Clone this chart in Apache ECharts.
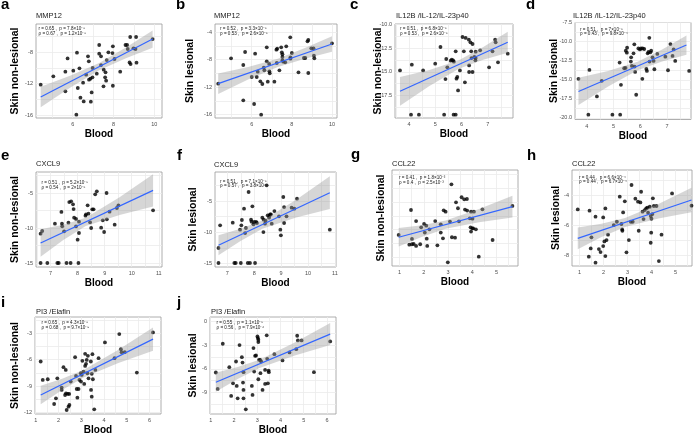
<!DOCTYPE html>
<html>
<head>
<meta charset="utf-8">
<script src="https://cdn.jsdelivr.net/npm/echarts@6/dist/echarts.min.js"></script>
<style>
html, body { margin: 0; padding: 0; background: #fff; }
#main { width: 700px; height: 435px; }
</style>
</head>
<body>
<div id="main"></div>
<script>
// a - MMP12, skin non-lesional vs blood
var ptsA = [[4.43,-12.13],[5.05,-11.06],[5.64,-12.98],[5.64,-10.47],[5.75,-8.77],[6.03,-10.34],[6.21,-8.04],[6.25,-12.55],[6.33,-10.04],[6.38,-13.79],[6.51,-11.87],[6.54,-14.26],[6.66,-10.85],[6.75,-8.51],[6.79,-9.15],[6.80,-11.49],[6.87,-11.36],[6.89,-14.30],[6.93,-13.11],[6.97,-11.19],[6.98,-10.0],[6.18,-15.96],[7.30,-7.06],[7.30,-8.17],[7.39,-9.62],[7.39,-8.51],[7.18,-10.72],[7.52,-10.21],[7.61,-10.55],[7.59,-11.19],[7.64,-11.62],[7.67,-8.98],[7.75,-8.0],[7.97,-7.23],[7.97,-12.26],[7.95,-8.09],[8.05,-8.85],[8.33,-10.47],[8.59,-7.06],[8.67,-7.06],[8.70,-7.57],[8.82,-6.04],[8.79,-9.28],[8.84,-9.49],[8.98,-7.49],[9.11,-6.04],[9.08,-7.57],[9.13,-9.32],[9.92,-6.30],[7.51,-12.34]];
var fitA = [[4.43,-13.70],[9.92,-6.30]];
var bandXA = [4.43,5.87,7.3,8.61,9.92];
var bandLoA = [-15.0,-12.53,-10.30,-8.75,-7.40];
var bandHiA = [-12.40,-10.99,-9.36,-7.39,-5.20];
var statA = 'r = 0.65 ,  p = 7.8×10⁻⁸\nρ = 0.67 ,  p = 1.2×10⁻⁸';

// b - MMP12, skin lesional
var ptsB = [[4.33,-11.50],[4.97,-7.82],[5.58,-8.79],[5.58,-13.92],[5.67,-6.90],[6.17,-7.14],[6.12,-14.45],[6.0,-10.53],[6.25,-10.53],[6.30,-9.76],[6.43,-11.16],[6.53,-11.55],[6.47,-16.0],[6.6,-9.18],[6.63,-9.56],[6.75,-8.26],[6.75,-6.23],[6.8,-11.21],[6.87,-8.64],[6.88,-9.71],[6.9,-10.0],[7.13,-11.21],[7.23,-6.56],[7.27,-6.42],[7.25,-8.50],[7.38,-9.56],[7.47,-6.23],[7.5,-6.95],[7.53,-7.24],[7.53,-7.63],[7.53,-8.11],[7.57,-8.31],[7.72,-6.08],[7.67,-8.40],[7.92,-4.77],[7.93,-7.87],[7.93,-7.68],[8.0,-7.05],[8.33,-9.85],[8.6,-7.77],[8.67,-7.77],[8.78,-5.35],[8.82,-5.16],[8.82,-9.95],[8.97,-6.37],[9.08,-6.37],[9.1,-7.43],[9.12,-7.82],[10.0,-5.64]];
var fitB = [[4.33,-11.5],[10.0,-5.74]];
var bandXB = [4.33,5.82,7.3,8.65,10.0];
var bandLoB = [-12.98,-10.89,-9.08,-7.88,-6.88];
var bandHiB = [-10.02,-9.09,-7.88,-6.34,-4.60];
var statB = 'r = 0.52 ,  p = 3.3×10⁻⁵\nρ = 0.53 ,  p = 2.6×10⁻⁵';

// c - IL12B, skin non-lesional
var ptsC = [[3.66,-14.85],[4.11,-14.24],[4.08,-19.55],[4.38,-19.55],[4.54,-14.85],[5.0,-14.14],[5.2,-12.37],[5.39,-15.77],[5.34,-19.55],[5.42,-13.64],[5.46,-14.53],[5.59,-13.82],[5.63,-13.71],[5.68,-13.78],[5.71,-13.93],[5.70,-19.55],[5.78,-19.55],[5.78,-12.83],[5.81,-15.73],[5.84,-15.55],[5.87,-16.97],[5.94,-14.85],[6.04,-11.31],[6.09,-12.83],[6.13,-16.12],[6.16,-11.41],[6.28,-11.59],[6.29,-14.32],[6.29,-15.02],[6.34,-11.87],[6.37,-12.83],[6.38,-13.54],[6.42,-12.05],[6.42,-15.02],[6.49,-13.43],[6.53,-13.78],[6.54,-12.87],[6.54,-13.54],[6.71,-12.72],[7.05,-14.53],[7.18,-12.83],[7.28,-11.59],[7.30,-11.87],[7.39,-14.0],[7.76,-13.08]];
var fitC = [[3.66,-17.07],[7.76,-11.87]];
var bandXC = [3.66,4.78,5.9,6.83,7.76];
var bandLoC = [-18.59,-16.50,-14.68,-13.73,-12.98];
var bandHiC = [-15.55,-14.80,-13.78,-12.37,-10.76];
var statC = 'r = 0.51 ,  p = 6.8×10⁻⁵\nρ = 0.53 ,  p = 2.6×10⁻⁵';

// d - IL12B, skin lesional
var ptsD = [[3.69,-14.88],[4.1,-13.71],[4.06,-19.57],[4.38,-17.18],[4.56,-15.14],[4.96,-19.57],[5.23,-12.75],[5.28,-15.66],[5.4,-13.49],[5.45,-13.45],[5.46,-11.19],[5.5,-11.45],[5.51,-10.80],[5.65,-12.62],[5.66,-12.06],[5.69,-13.19],[5.75,-11.54],[5.78,-10.36],[5.79,-13.27],[5.81,-13.97],[5.85,-16.96],[5.93,-10.89],[5.99,-11.02],[6.03,-10.89],[6.09,-10.89],[6.08,-14.88],[6.15,-10.97],[6.23,-13.58],[6.25,-13.84],[6.28,-11.54],[6.31,-11.36],[6.34,-9.50],[6.35,-12.62],[6.38,-11.41],[6.41,-11.19],[6.46,-12.06],[6.5,-12.53],[6.53,-13.62],[6.64,-11.62],[6.94,-11.97],[7.04,-13.75],[7.13,-10.32],[7.21,-11.88],[7.25,-11.02],[7.31,-12.53],[7.83,-13.84],[5.25,-19.57]];
var fitD = [[3.69,-16.53],[7.73,-10.45]];
var bandXD = [3.69,4.8,5.9,6.82,7.73];
var bandLoD = [-18.31,-15.87,-13.75,-12.61,-11.71];
var bandHiD = [-14.75,-13.85,-12.65,-11.03,-9.19];
var statD = 'r = 0.51 ,  p = 7×10⁻⁵\nρ = 0.43 ,  p = 9.8×10⁻⁴';

// e - CXCL9, skin non-lesional
var ptsE = [[6.63,-10.81],[6.69,-10.43],[6.63,-15.0],[6.88,-15.0],[7.25,-15.0],[7.30,-15.0],[7.59,-15.0],[7.74,-15.0],[8.03,-15.0],[7.16,-9.38],[7.40,-7.71],[7.42,-9.38],[7.43,-9.76],[7.50,-10.48],[7.66,-9.24],[7.69,-6.29],[7.76,-6.19],[7.83,-6.62],[7.85,-7.29],[7.87,-8.52],[7.94,-8.71],[7.94,-9.76],[8.0,-11.67],[8.05,-10.71],[8.05,-9.10],[8.29,-8.24],[8.31,-8.05],[8.37,-6.76],[8.40,-7.95],[8.46,-9.19],[8.50,-10.0],[8.54,-7.33],[8.59,-7.33],[8.65,-5.19],[8.71,-4.76],[8.87,-9.95],[8.93,-8.90],[8.98,-10.57],[9.07,-5.0],[9.08,-8.76],[9.18,-7.67],[9.37,-9.52],[9.45,-7.14],[9.51,-6.76],[10.79,-7.48]];
var fitE = [[6.63,-12.14],[10.79,-4.62]];
var bandXE = [6.63,7.47,8.3,9.55,10.79];
var bandLoE = [-14.09,-11.73,-9.72,-8.13,-6.93];
var bandHiE = [-10.19,-9.52,-8.52,-5.59,-2.31];
var statE = 'r = 0.51 ,  p = 5.2×10⁻⁵\nρ = 0.54 ,  p = 2×10⁻⁵';

// f - CXCL9, skin lesional
var ptsF = [[6.67,-12.5],[6.73,-8.88],[6.67,-14.89],[7.20,-8.46],[7.26,-14.89],[7.31,-14.89],[7.47,-9.57],[7.50,-14.89],[7.52,-8.88],[7.54,-8.03],[7.62,-6.22],[7.66,-10.11],[7.69,-9.31],[7.76,-14.89],[7.79,-3.56],[7.84,-14.89],[7.88,-7.98],[7.90,-8.30],[7.93,-5.85],[7.97,-8.72],[8.0,-8.35],[8.03,-14.89],[8.07,-8.35],[8.10,-8.51],[8.30,-7.66],[8.34,-9.95],[8.35,-7.98],[8.40,-8.62],[8.42,-8.14],[8.46,-2.5],[8.50,-7.29],[8.55,-7.66],[8.57,-7.34],[8.59,-7.13],[8.62,-7.13],[8.65,-8.62],[8.75,-6.60],[8.92,-7.45],[8.97,-9.57],[8.99,-10.48],[9.08,-4.36],[9.11,-5.96],[9.11,-8.51],[9.20,-7.45],[9.39,-6.06],[9.49,-6.22],[9.59,-4.63],[10.81,-9.57]];
var fitF = [[6.67,-12.07],[10.81,-3.67]];
var bandXF = [6.67,7.49,8.3,9.56,10.81];
var bandLoF = [-13.67,-11.39,-9.42,-7.64,-6.28];
var bandHiF = [-10.47,-9.43,-8.10,-4.79,-1.06];
var statF = 'r = 0.51 ,  p = 7.1×10⁻⁵\nρ = 0.57 ,  p = 3.8×10⁻⁶';

// g - CCL22, skin non-lesional
var ptsG = [[0.96,-7.39],[1.47,-5.58],[1.40,-8.10],[1.51,-8.07],[1.51,-7.68],[1.58,-8.05],[1.68,-6.38],[1.68,-8.19],[1.85,-8.07],[1.89,-6.84],[2.01,-6.59],[2.04,-7.22],[2.10,-6.72],[2.12,-7.66],[2.14,-8.19],[2.23,-6.98],[2.47,-6.38],[2.56,-8.15],[2.70,-6.62],[2.70,-7.22],[2.79,-7.64],[2.82,-5.60],[2.90,-5.70],[2.99,-9.38],[3.08,-6.42],[3.14,-3.71],[3.16,-7.56],[3.29,-7.59],[3.33,-5.02],[3.41,-5.45],[3.45,-6.40],[3.56,-4.65],[3.67,-4.80],[3.70,-5.55],[3.78,-4.78],[3.79,-5.62],[3.90,-6.18],[3.93,-6.84],[3.95,-7.15],[3.95,-5.70],[4.0,-6.91],[4.01,-6.21],[4.04,-6.91],[4.07,-5.70],[4.15,-6.98],[4.27,-8.97],[4.42,-5.53],[4.84,-7.76],[5.66,-5.28]];
var fitG = [[0.96,-7.56],[5.66,-5.33]];
var bandXG = [0.96,1.93,2.9,4.28,5.66];
var bandLoG = [-8.23,-7.52,-6.94,-6.46,-6.12];
var bandHiG = [-6.89,-6.68,-6.34,-5.51,-4.54];
var statG = 'r = 0.41 ,  p = 1.8×10⁻³\nρ = 0.4 ,  p = 2.5×10⁻³';

// h - CCL22, skin lesional
var ptsH = [[0.93,-4.96],[1.42,-5.04],[1.5,-6.82],[1.47,-7.56],[1.39,-8.11],[1.67,-5.44],[1.67,-8.51],[1.81,-7.6],[1.88,-7.8],[1.99,-5.49],[1.99,-7.4],[2.04,-7.09],[2.08,-4.89],[2.08,-8.07],[2.13,-7.0],[2.19,-6.64],[2.43,-6.0],[2.56,-5.78],[2.68,-4.11],[2.75,-5.93],[2.78,-6.29],[2.79,-6.38],[2.82,-5.16],[2.89,-4.42],[2.96,-7.82],[3.06,-7.0],[3.14,-5.78],[3.17,-3.33],[3.22,-5.78],[3.33,-4.24],[3.44,-4.44],[3.47,-6.38],[3.54,-4.49],[3.57,-3.78],[3.63,-5.11],[3.67,-5.6],[3.72,-5.0],[3.78,-4.89],[3.83,-4.84],[3.86,-5.18],[3.93,-4.78],[3.97,-5.4],[4.0,-5.58],[3.99,-6.51],[3.97,-7.18],[4.04,-5.27],[4.06,-4.22],[4.10,-4.73],[4.21,-4.73],[4.31,-8.4],[4.42,-6.64],[4.86,-3.89],[5.67,-4.71]];
var fitH = [[0.93,-6.89],[5.67,-4.33]];
var bandXH = [0.93,1.92,2.9,4.29,5.67];
var bandLoH = [-7.62,-6.80,-6.13,-5.56,-5.14];
var bandHiH = [-6.16,-5.91,-5.53,-4.60,-3.52];
var statH = 'r = 0.44 ,  p = 6.6×10⁻⁴\nρ = 0.44 ,  p = 6.7×10⁻⁴';

// i - PI3/Elafin, skin non-lesional
var ptsI = [[1.22,-6.21],[1.31,-8.30],[1.53,-8.22],[1.81,-11.02],[1.89,-10.38],[1.95,-8.11],[2.14,-9.16],[2.14,-9.43],[2.22,-6.86],[2.29,-10.0],[2.32,-7.16],[2.33,-9.81],[2.36,-11.70],[2.41,-9.88],[2.44,-11.32],[2.47,-9.88],[2.48,-11.13],[2.54,-8.48],[2.73,-5.72],[2.77,-7.84],[2.80,-9.32],[2.83,-10.30],[2.88,-9.32],[2.92,-8.30],[2.98,-7.54],[3.02,-7.73],[2.99,-8.48],[3.05,-6.14],[3.10,-7.35],[3.13,-8.75],[3.17,-5.34],[3.17,-6.71],[3.21,-6.48],[3.24,-6.03],[3.27,-7.54],[3.29,-5.57],[3.32,-8.11],[3.42,-6.21],[3.43,-9.43],[3.46,-7.61],[3.49,-5.38],[3.51,-8.22],[3.46,-10.19],[3.62,-7.16],[3.57,-11.62],[3.76,-5.84],[4.04,-4.06],[4.46,-5.84],[4.67,-3.11],[4.74,-4.82],[4.77,-5.16],[4.91,-5.16],[5.44,-7.46],[6.15,-2.92]];
var fitI = [[1.22,-10.0],[6.15,-3.68]];
var bandXI = [1.22,2.16,3.1,4.63,6.15];
var bandLoI = [-11.04,-9.43,-8.01,-6.38,-5.0];
var bandHiI = [-8.96,-8.16,-7.17,-4.88,-2.36];
var statI = 'r = 0.65 ,  p = 4.3×10⁻⁸\nρ = 0.68 ,  p = 9.7×10⁻⁹';

// j - PI3/Elafin, skin lesional
var ptsJ = [[1.22,-6.46],[1.30,-8.53],[1.52,-2.83],[1.80,-5.79],[1.88,-9.42],[1.96,-7.82],[2.09,-5.07],[2.12,-8.15],[2.16,-9.72],[2.24,-3.0],[2.34,-4.52],[2.37,-5.20],[2.41,-6.42],[2.39,-7.73],[2.41,-8.66],[2.41,-9.72],[2.51,-11.11],[2.77,-8.15],[2.80,-9.29],[2.84,-3.38],[2.87,-6.34],[2.91,-4.35],[2.95,-4.31],[3.01,-1.90],[3.03,-2.11],[3.05,-2.32],[3.05,-2.62],[3.05,-7.31],[3.08,-4.86],[3.13,-4.86],[3.14,-6.55],[3.17,-5.07],[3.23,-8.66],[3.34,-6.13],[3.34,-7.90],[3.41,-1.77],[3.43,-4.73],[3.46,-7.82],[3.49,-6.21],[3.50,-6.42],[3.74,-4.14],[4.09,-4.94],[4.39,-3.93],[4.68,-3.51],[4.72,-1.82],[4.75,-2.41],[4.91,-2.41],[5.44,-6.42],[6.14,-2.53]];
var fitJ = [[1.22,-7.69],[6.14,-1.61]];
var bandXJ = [1.22,2.16,3.1,4.62,6.14];
var bandLoJ = [-8.89,-7.29,-5.90,-4.32,-3.0];
var bandHiJ = [-6.49,-5.77,-4.84,-2.66,-0.22];
var statJ = 'r = 0.55 ,  p = 1.1×10⁻⁵\nρ = 0.56 ,  p = 7.9×10⁻⁶';

var NON = 'Skin non-lesional', LES = 'Skin lesional';
var FONT = 'Liberation Sans';

// panel layout: box = [left, top, width, height]
var panels = [
    {id:'a', gene:'MMP12', ylab:NON, pts:ptsA, fit:fitA, bx:bandXA, lo:bandLoA, hi:bandHiA, stat:statA,
     box:[36,24,126,94], xr:[4.20,10.38], yr:[-16.38,-4.38], xt:[6,8,10], xm:[5,7,9], yt:[-16,-12,-8], ym:[-14,-10,-6],
     dec:0, yGap:15.5, lab:[1,-2.5], gpos:[36,12], spos:[38.5,27]},
    {id:'b', gene:'MMP12', ylab:LES, pts:ptsB, fit:fitB, bx:bandXB, lo:bandLoB, hi:bandHiB, stat:statB,
     box:[215,24,122,94], xr:[4.17,10.25], yr:[-16.48,-2.84], xt:[6,8,10], xm:[5,7,9], yt:[-16,-12,-8,-4], ym:[-14,-10,-6],
     dec:0, yGap:19.5, lab:[176,-2.5], gpos:[214,12], spos:[220,27]},
    {id:'c', gene:'IL12B /IL-12/IL-23p40', ylab:NON, pts:ptsC, fit:fitC, bx:bandXC, lo:bandLoC, hi:bandHiC, stat:statC,
     box:[395,24,118,94], xr:[3.47,7.96], yr:[-19.9,-9.93], xt:[4,5,6,7], xm:[3.5,4.5,5.5,6.5,7.5], yt:[-17.5,-15,-12.5,-10], ym:[-18.75,-16.25,-13.75,-11.25],
     dec:1, yGap:11, lab:[350,-2.5], gpos:[396,12], spos:[400,27]},
    {id:'d', gene:'IL12B /IL-12/IL-23p40', ylab:LES, pts:ptsD, fit:fitD, bx:bandXD, lo:bandLoD, hi:bandHiD, stat:statD,
     box:[575,22.5,116,97], xr:[3.56,7.9], yr:[-20.2,-7.5], xt:[4,5,6,7], xm:[3.5,4.5,5.5,6.5,7.5], yt:[-20,-17.5,-15,-12.5,-10,-7.5], ym:[-18.75,-16.25,-13.75,-11.25,-8.75],
     dec:1, yGap:15, lab:[526,-2.5], gpos:[573,12], spos:[580,27.5]},
    {id:'e', gene:'CXCL9', ylab:NON, pts:ptsE, fit:fitE, bx:bandXE, lo:bandLoE, hi:bandHiE, stat:statE,
     box:[36,172,126,95], xr:[6.46,11.12], yr:[-15.57,-2.0], xt:[7,8,9,10,11], xm:[6.5,7.5,8.5,9.5,10.5], yt:[-15,-10,-5], ym:[-12.5,-7.5,-2.5],
     dec:0, yGap:15.5, lab:[1,148], gpos:[36,160.3], spos:[41.5,181]},
    {id:'f', gene:'CXCL9', ylab:LES, pts:ptsF, fit:fitF, bx:bandXF, lo:bandLoF, hi:bandHiF, stat:statF,
     box:[215,172,121,95], xr:[6.54,11.04], yr:[-15.53,-0.37], xt:[7,8,9,10,11], xm:[6.5,7.5,8.5,9.5,10.5], yt:[-15,-10,-5], ym:[-12.5,-7.5,-2.5],
     dec:0, yGap:16, lab:[177,148], gpos:[214,160.5], spos:[220,179.5]},
    {id:'g', gene:'CCL22', ylab:NON, pts:ptsG, fit:fitG, bx:bandXG, lo:bandLoG, hi:bandHiG, stat:statG,
     box:[392,170,126,96], xr:[0.685,5.89], yr:[-9.65,-2.67], xt:[1,2,3,4,5], xm:[1.5,2.5,3.5,4.5,5.5], yt:[-8,-6,-4], ym:[-9,-7,-5,-3],
     dec:0, noYLabel:true, yGap:5, lab:[351,147.5], gpos:[392,159.6], spos:[399,176]},
    {id:'h', gene:'CCL22', ylab:LES, pts:ptsH, fit:fitH, bx:bandXH, lo:bandLoH, hi:bandHiH, stat:statH,
     box:[572,170,120,96], xr:[0.69,5.69], yr:[-8.73,-2.33], xt:[1,2,3,4,5], xm:[1.5,2.5,3.5,4.5,5.5], yt:[-8,-6,-4], ym:[-7,-5,-3],
     dec:0, yGap:10, lab:[527,148], gpos:[572,159.6], spos:[579,175.5]},
    {id:'i', gene:'PI3 /Elafin', ylab:NON, pts:ptsI, fit:fitI, bx:bandXI, lo:bandLoI, hi:bandHiI, stat:statI,
     box:[35,317,126,97], xr:[0.97,6.5], yr:[-12.15,-1.18], xt:[1,2,3,4,5,6], xm:[1.5,2.5,3.5,4.5,5.5], yt:[-12,-9,-6,-3], ym:[-10.5,-7.5,-4.5,-1.5],
     dec:0, yGap:14.5, lab:[1,295], gpos:[36,307.6], spos:[41.5,321]},
    {id:'j', gene:'PI3 /Elafin', ylab:LES, pts:ptsJ, fit:fitJ, bx:bandXJ, lo:bandLoJ, hi:bandHiJ, stat:statJ,
     box:[210,317,126,97], xr:[0.97,6.39], yr:[-11.70,0.55], xt:[1,2,3,4,5,6], xm:[1.5,2.5,3.5,4.5,5.5], yt:[-9,-6,-3,0], ym:[-10.5,-7.5,-4.5,-1.5],
     dec:0, yGap:11, lab:[177,295], gpos:[211,307.6], spos:[216.5,321]}
];

var grids = [], xAxes = [], yAxes = [], series = [], titles = [];

// confidence band: one polygon per panel, corners taken through the axis scales
function bandRenderer(p) {
    return function (params, api) {
        if (params.dataIndex !== 0) return null;
        var top = [], bottom = [];
        for (var k = 0; k < p.bx.length; k++) {
            top.push(api.coord([p.bx[k], p.hi[k]]));
            bottom.unshift(api.coord([p.bx[k], p.lo[k]]));
        }
        return {
            type: 'polygon',
            shape: {points: top.concat(bottom)},
            style: {fill: 'rgba(153,153,153,0.4)'},
            silent: true
        };
    };
}

panels.forEach(function (p, i) {
    grids.push({
        left: p.box[0], top: p.box[1], width: p.box[2], height: p.box[3],
        show: true, borderColor: '#9a9a9a', borderWidth: 0.8, backgroundColor: '#fff',
        outerBoundsMode: 'none'
    });

    xAxes.push({
        gridIndex: i, type: 'value', min: p.xr[0], max: p.xr[1],
        axisLine: {show: false},
        axisTick: {show: false, customValues: p.xt.concat(p.xm)},
        axisLabel: {customValues: p.xt, fontSize: 5.5, color: '#4d4d4d', margin: 3.5, fontFamily: FONT},
        splitLine: {show: true, lineStyle: {color: '#ebebeb', width: 0.8}},
        name: 'Blood', nameLocation: 'middle', nameGap: 11.5, nameMoveOverlap: false,
        nameTextStyle: {fontSize: 10, fontWeight: 'bold', color: '#000', fontFamily: FONT}
    });

    yAxes.push({
        gridIndex: i, type: 'value', min: p.yr[0], max: p.yr[1],
        axisLine: {show: false},
        axisTick: {show: false, customValues: p.yt.concat(p.ym)},
        axisLabel: {
            show: !p.noYLabel, customValues: p.yt, fontSize: 5.5, color: '#4d4d4d', margin: 3, fontFamily: FONT,
            formatter: (function (d) { return function (v) { return v.toFixed(d); }; })(p.dec)
        },
        splitLine: {show: true, lineStyle: {color: '#ebebeb', width: 0.8}},
        name: p.ylab, nameLocation: 'middle', nameGap: p.yGap, nameRotate: 90, nameMoveOverlap: false,
        nameTextStyle: {fontSize: 10.5, fontWeight: 'bold', color: '#000', fontFamily: FONT}
    });

    series.push({
        type: 'scatter', xAxisIndex: i, yAxisIndex: i, data: p.pts,
        symbolSize: 3.8, itemStyle: {color: '#000'}, silent: true, z: 2
    });
    series.push({
        type: 'custom', xAxisIndex: i, yAxisIndex: i,
        data: p.bx.map(function (x, k) { return [x, p.lo[k], p.hi[k]]; }),
        encode: {x: 0, y: [1, 2]},
        renderItem: bandRenderer(p), silent: true, z: 3
    });
    series.push({
        type: 'line', xAxisIndex: i, yAxisIndex: i, data: p.fit,
        symbol: 'none', lineStyle: {color: '#3366FF', width: 1.2}, silent: true, z: 4
    });

    titles.push({
        text: p.id, left: p.lab[0], top: p.lab[1], padding: 0,
        textStyle: {fontSize: 15, fontWeight: 'bold', color: '#000', fontFamily: FONT}
    });
    titles.push({
        text: p.gene, left: p.gpos[0], top: p.gpos[1], padding: 0,
        textStyle: {fontSize: 7.5, fontWeight: 'normal', color: '#1a1a1a', fontFamily: FONT}
    });
    titles.push({
        text: p.stat, left: p.spos[0], top: p.spos[1], padding: 0,
        textStyle: {fontSize: 4.6, lineHeight: 4.4, fontWeight: 'normal', color: '#1a1a1a', fontFamily: FONT}
    });
});

var chart = echarts.init(document.getElementById('main'), null, {renderer: 'canvas'});
var option = {
    backgroundColor: '#fff',
    animation: false,
    title: titles,
    grid: grids,
    xAxis: xAxes,
    yAxis: yAxes,
    series: series
};
chart.setOption(option, true);
</script>
</body>
</html>
